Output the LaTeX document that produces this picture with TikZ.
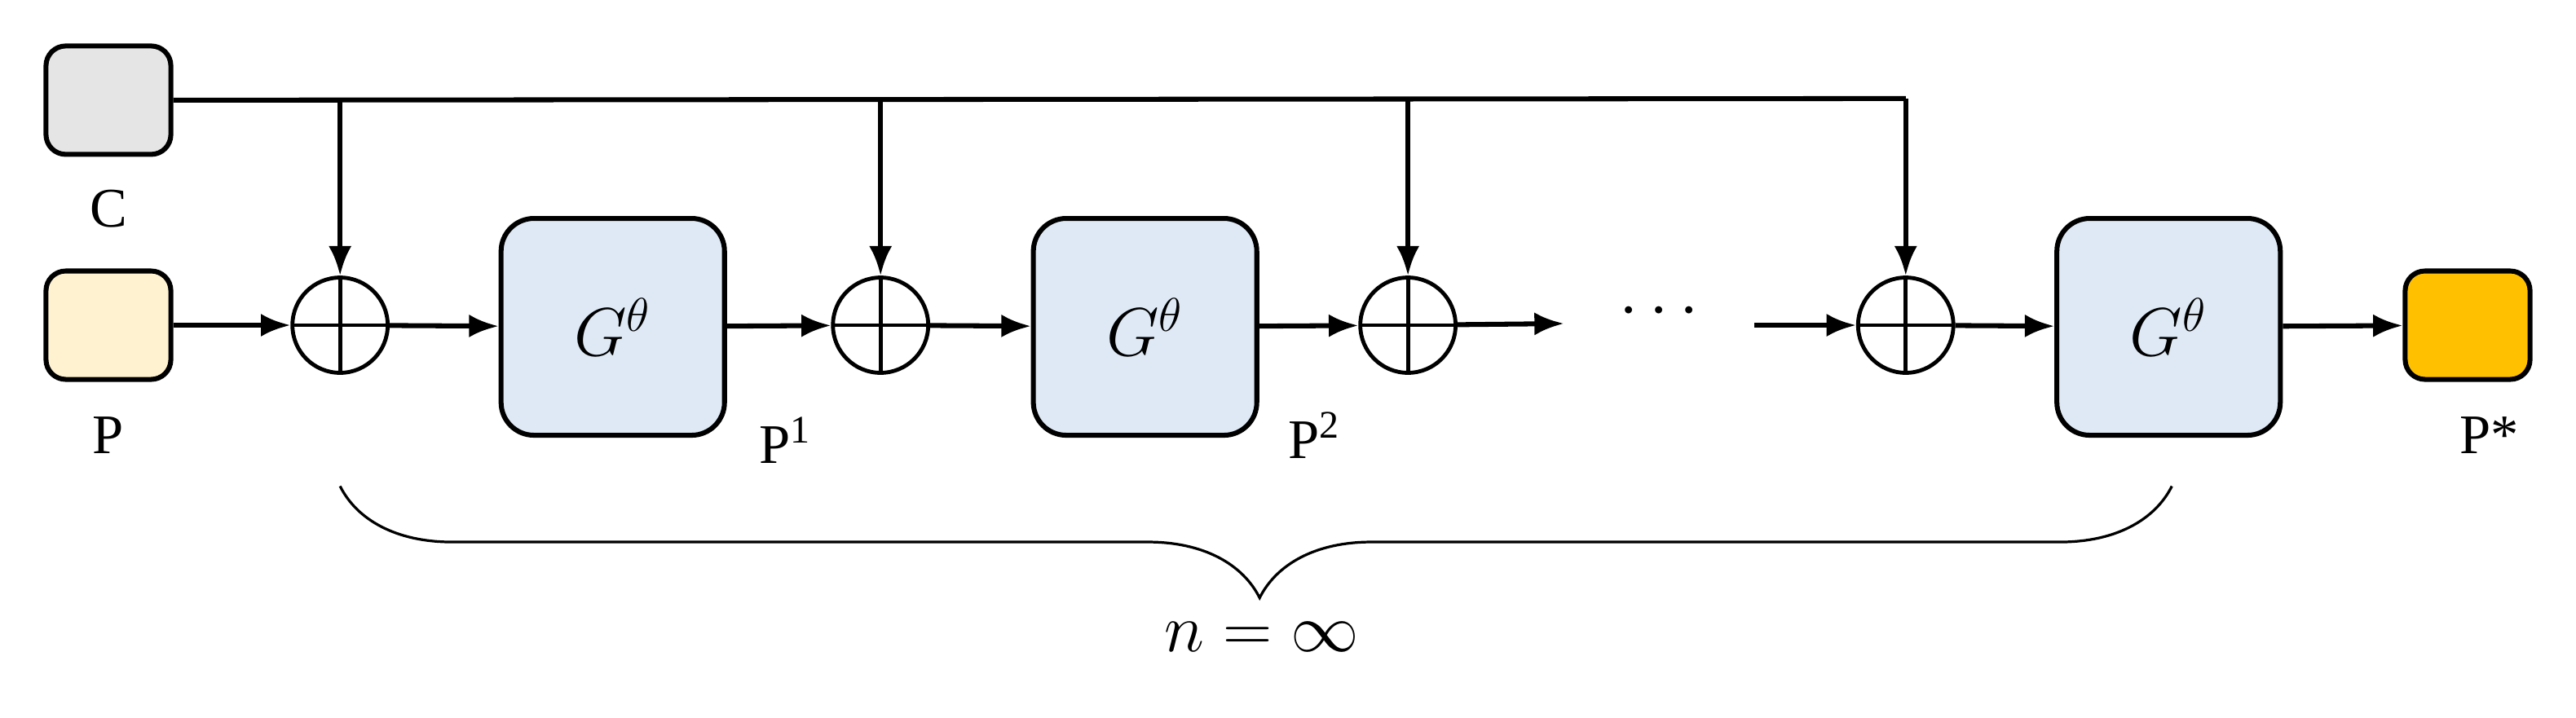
\documentclass[tikz,border=0pt]{standalone}
\usepackage{fontspec}
\setmainfont{Liberation Serif}
\usetikzlibrary{arrows.meta,decorations.pathreplacing}
\begin{document}
\begin{tikzpicture}[x=0.5pt,y=-0.5pt,
  sq/.style={draw,line width=1.5pt,rounded corners=6pt,minimum width=38pt,minimum height=33pt,inner sep=0pt},
  gbox/.style={draw,line width=1.5pt,rounded corners=10pt,fill=gboxc,minimum width=68pt,minimum height=66pt,font=\fontsize{20}{22}\selectfont},
  opl/.style={draw,line width=1.2pt,circle,minimum size=29pt,inner sep=0pt,path picture={\draw[line width=1.2pt] (path picture bounding box.north)--(path picture bounding box.south) (path picture bounding box.west)--(path picture bounding box.east);}},
  ar/.style={line width=1.5pt,-{Latex[length=9pt,width=7pt]}},
  lab/.style={font=\fontsize{17}{20}\selectfont}]
\definecolor{gboxc}{RGB}{222,233,245}
\useasboundingbox (0,0) rectangle (1568,437);
\node[sq,fill=black!10] (C) at (66,61) {};
\node[sq,fill={rgb,255:red,255;green,242;blue,208}] (P) at (66,198) {};
\node[sq,fill={rgb,255:red,255;green,192;blue,0}] (Ps) at (1502,198) {};
\node[lab] at (66,127) {C};
\node[lab] at (66,265) {P};
\node[lab] at (478,268) {P\textsuperscript{1}};
\node[lab] at (800,265) {P\textsuperscript{2}};
\node[lab] at (1515,265) {P*};
\node[opl] (o1) at (207,198) {};
\node[opl] (o2) at (536,198) {};
\node[opl] (o3) at (857,198) {};
\node[opl] (o4) at (1160,198) {};
\node[gbox] (g1) at (373,199) {$G^{\theta}$};
\node[gbox] (g2) at (697,199) {$G^{\theta}$};
\node[gbox] (g3) at (1320,199) {$G^{\theta}$};
\node[font=\fontsize{22}{24}\selectfont] (dots) at (1010,190) {$\cdots$};
\coordinate (d1) at (952,197);
\coordinate (d2) at (1068,198);
\coordinate (tr) at (1160,60);
\draw[line width=1.5pt] (C.east) -- (tr);
\foreach \o in {o1,o2,o3,o4} \draw[ar] (\o |- tr) -- (\o.north);
\draw[ar] (P) -- (o1);
\draw[ar] (o1) -- (g1);
\draw[ar] (g1) -- (o2);
\draw[ar] (o2) -- (g2);
\draw[ar] (g2) -- (o3);
\draw[ar] (o3) -- (d1);
\draw[ar] (d2) -- (o4);
\draw[ar] (o4) -- (g3);
\draw[ar] (g3) -- (Ps);
\coordinate (b1) at (207,296);
\coordinate (b2) at (1322,296);
\draw[line width=0.8pt,decorate,decoration={brace,mirror,amplitude=34pt,aspect=0.502}] (b1) -- (b2);
\node[font=\fontsize{20}{22}\selectfont] (n) at (768,388) {$n=\infty$};
\end{tikzpicture}
\end{document}
